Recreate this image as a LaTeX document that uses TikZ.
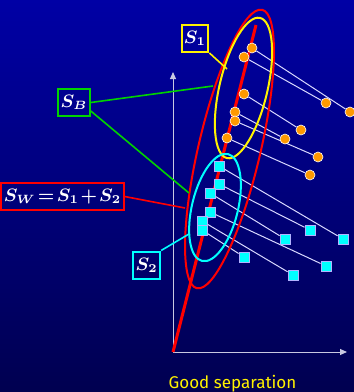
\documentclass[tikz,border=0pt]{standalone}
\usepackage{amsmath}
\usepackage{fontspec}
\newfontfamily\capfont{Fira Sans}
\usetikzlibrary{arrows.meta, positioning}

\definecolor{bgtop}{RGB}{0,0,165}
\definecolor{bgbot}{RGB}{0,0,80}
\definecolor{dotorange}{RGB}{255,153,0}
\definecolor{sbgreen}{RGB}{0,210,0}
\definecolor{aqua}{RGB}{0,255,255}
\definecolor{axisgray}{RGB}{200,200,225}

\newcommand\tightmath{\fontsize{9.2}{11}\selectfont\boldmath\thickmuskip=2mu\relax\medmuskip=1.5mu\relax}

\pgfdeclarelayer{backdrop}
\pgfdeclarelayer{wires}
\pgfsetlayers{backdrop,wires,main}

\begin{document}
\begin{tikzpicture}[x=0.5pt, y=-0.5pt,
    cls1/.style={circle, fill=dotorange, draw=white, line width=0.3pt, minimum size=5pt, inner sep=0pt},
    cls2/.style={rectangle, fill=aqua, draw=white!70!blue, line width=0.4pt, minimum size=5pt, inner sep=0pt},
    proj/.style={white!85!blue, line width=0.5pt},
    lbl/.style={draw, line width=1pt, text=white, inner xsep=1.2pt, inner ysep=0pt, minimum height=13.5pt,
                font=\tightmath}]
        \useasboundingbox (0,0) rectangle (354,392);
        \begin{pgfonlayer}{backdrop}
            \shade[top color=bgtop, bottom color=bgbot] (0,0) rectangle (354,392);
        \end{pgfonlayer}

        % Axes
        \coordinate (o) at (173,352);
        \coordinate (ytop) at (173,72);
        \coordinate (xend) at (347,352);
        \coordinate (dir) at (256,25);

        % Class 1 (near the line)
        \node[cls1] (a1) at (252,48) {};
        \node[cls1] (a2) at (244,57) {};
        \node[cls1] (a3) at (244,94) {};
        \node[cls1] (a4) at (235,112) {};
        \node[cls1] (a5) at (235,121) {};
        \node[cls1] (a6) at (227,138) {};
        % Class 1 (original)
        \node[cls1] (p1) at (350,112) {};
        \node[cls1] (p2) at (326,103) {};
        \node[cls1] (p3) at (301,130) {};
        \node[cls1] (p4) at (285,139) {};
        \node[cls1] (p5) at (318,157) {};
        \node[cls1] (p6) at (310,175) {};

        % Class 2 (near the line)
        \node[cls2] (b1) at (219,166) {};
        \node[cls2] (b2) at (219,184) {};
        \node[cls2] (b3) at (210,193) {};
        \node[cls2] (b4) at (210,212) {};
        \node[cls2] (b5) at (202,221) {};
        \node[cls2] (b6) at (202,230) {};
        % Class 2 (original)
        \node[cls2] (q1) at (343,239) {};
        \node[cls2] (q2) at (310,230) {};
        \node[cls2] (q3) at (285,239) {};
        \node[cls2] (q4) at (326,266) {};
        \node[cls2] (q5) at (293,275) {};
        \node[cls2] (q6) at (244,257) {};

        % Points on the ellipses
        \coordinate (yel) at (227,69);
        \coordinate (redtop) at (213,86);
        \coordinate (cyanleft) at (189,193);
        \coordinate (redleft) at (185,208);
        \coordinate (cyanlow) at (189,234);

        \begin{pgfonlayer}{wires}
            \draw[axisgray, line width=0.5pt, -{Triangle[width=3pt,length=3.5pt]}] (o) -- (ytop);
            \draw[axisgray, line width=0.5pt, -{Triangle[width=3pt,length=3.5pt]}] (o) -- (xend);
            \foreach \s/\t in {a1/p1, a2/p2, a3/p3, a4/p4, a5/p5, a6/p6,
                               b1/q1, b2/q2, b3/q3, b4/q4, b5/q5, b6/q6}
                \draw[proj] (\s) -- (\t);
            \draw[red, line width=1.5pt] (o) -- (dir);
            \draw[red, line width=1pt, rotate around={76.8:(229.5,149)}] (229.5,149) ellipse [x radius=143, y radius=31];
            \draw[yellow, line width=1pt, rotate around={76.7:(243.5,88)}] (243.5,88) ellipse [x radius=72, y radius=24];
            \draw[aqua, line width=1pt, rotate around={76.3:(215,207.5)}] (215,207.5) ellipse [x radius=55, y radius=23];
        \end{pgfonlayer}

        % Labels
        \node[lbl, draw=yellow] (s1) at (195,38.5) {$S_1$};
        \node[lbl, draw=sbgreen] (sb) at (74,102.5) {$S_B$};
        \node[lbl, draw=red] (sw) at (62.5,196.5) {$S_W = S_1 + S_2$};
        \node[lbl, draw=aqua] (s2) at (146.7,265) {$S_2$};
        \draw[yellow, line width=0.8pt] (s1.south east) -- (yel);
        \draw[sbgreen, line width=0.8pt] (sb.east) -- (redtop);
        \draw[sbgreen, line width=0.8pt] ([yshift=3pt]sb.south east) -- (cyanleft);
        \draw[red, line width=0.8pt] (sw.east) -- (redleft);
        \draw[aqua, line width=0.8pt] (s2.north east) -- (cyanlow);

        \node[yellow, font=\capfont\fontsize{8.5}{10}\selectfont] (cap) at (232.5,384) {Good separation};
    \end{tikzpicture}
\end{document}
